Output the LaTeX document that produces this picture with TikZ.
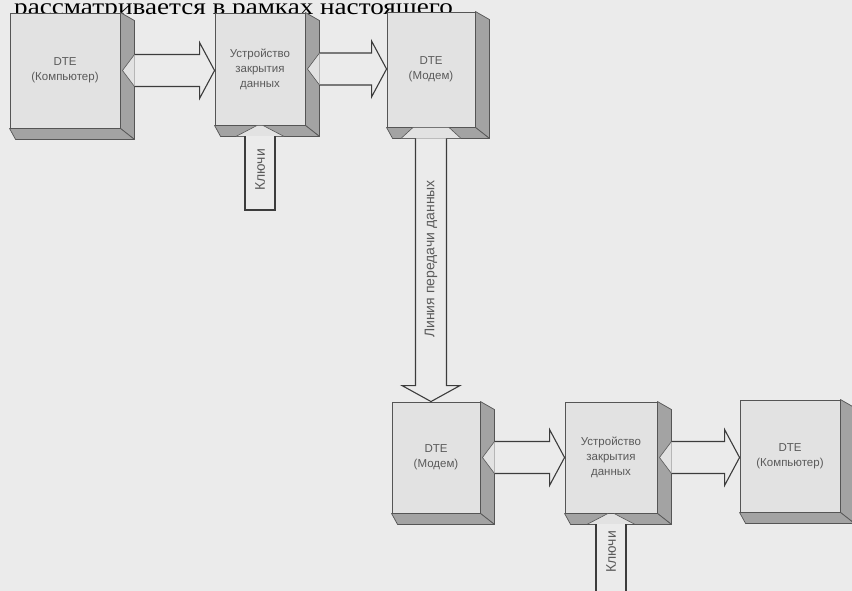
\documentclass[tikz,border=0pt]{standalone}
\usepackage{fontspec}
\newfontfamily\labelsans{Liberation Sans}
\newfontfamily\pageserif[FakeStretch=1.18]{Liberation Serif}
\usetikzlibrary{calc}
\definecolor{paper}{HTML}{EBEBEB}
\definecolor{facefill}{HTML}{E2E2E2}
\definecolor{sidefill}{HTML}{A3A3A3}
\definecolor{boxline}{HTML}{555555}
\definecolor{inkgray}{HTML}{5A5A5A}
\tikzset{
  frontface/.style = {rectangle, draw=boxline, fill=facefill, line width=0.9pt,
                      align=center, inner sep=0pt, text=inkgray,
                      font=\labelsans\fontsize{11.5}{15}\selectfont},
  shadeface/.style = {draw=boxline, fill=sidefill, line width=0.7pt, line join=round},
  notch/.style     = {draw=boxline, fill=facefill, line width=0.6pt},
  pipe/.style      = {draw=boxline!70!black, fill=paper, line width=1.1pt, line join=miter},
  pipelbl/.style   = {rotate=90, text=inkgray, font=\labelsans\fontsize{14}{16}\selectfont},
}
% depth of a box: right and bottom faces
\newcommand{\boxdepth}[1]{%
  \draw[shadeface] (#1.north east) -- ++(14,8) -- ([shift={(14,11)}]#1.south east)
    -- (#1.south east) -- cycle;
  \draw[shadeface] (#1.south west) -- ++(6,11) -- ([shift={(14,11)}]#1.south east)
    -- (#1.south east) -- cycle;}
% wide arrow from one box to the next one on its right
\newcommand{\sidepipe}[2]{%
  \filldraw[notch] let \p1=(#1.east) in
    (\x1+14pt,\y1+16pt) -- (\x1+2pt,\y1) -- (\x1+14pt,\y1-16pt) -- cycle;
  \draw[pipe] let \p1=(#1.east), \p2=(#2.west) in
    (\x1+14pt,\y1+16pt) -- (\x2-15pt,\y1+16pt) -- (\x2-15pt,\y1+28pt) -- (\x2,\y1)
    -- (\x2-15pt,\y1-28pt) -- (\x2-15pt,\y1-16pt) -- (\x1+14pt,\y1-16pt);}
% key input from below into a box
\newcommand{\keypipe}[2]{%
  \filldraw[notch] let \p1=(#1.south) in
    (\x1-24pt,\y1-11pt) -- (\x1-3pt,\y1) -- (\x1+3pt,\y1) -- (\x1+24pt,\y1-11pt) -- cycle;
  \draw[pipe] let \p1=(#1.south), \p2=(#2) in
    (\x1-15pt,\y1-11pt) -- (\x1-15pt,\y2) -- (\x1+15pt,\y2) -- (\x1+15pt,\y1-11pt);}
% data line from one box down to another
\newcommand{\linkpipe}[2]{%
  \filldraw[notch] let \p1=(#1.south) in
    (\x1-30pt,\y1-11pt) -- (\x1-18pt,\y1) -- (\x1+18pt,\y1) -- (\x1+30pt,\y1-11pt) -- cycle;
  \draw[pipe] let \p1=(#1.south), \p2=(#2.north) in
    (\x1-15.5pt,\y1-11pt) -- (\x1-15.5pt,\y2+16pt) -- (\x1-29pt,\y2+16pt) -- (\x1,\y2)
    -- (\x1+29pt,\y2+16pt) -- (\x1+15.5pt,\y2+16pt) -- (\x1+15.5pt,\y1-11pt);}
\begin{document}
\begin{tikzpicture}[x=1pt, y=-1pt]
  \clip (0,0) rectangle (852,591);
  \fill[paper] (0,0) rectangle (852,591);
  % line of page text above the figure
  \node[anchor=base west, inner sep=0pt, text height=11pt, text depth=0pt,
        font=\pageserif\fontsize{23}{25}\selectfont]
    (pagetext) at (14,15) {рассматривается в рамках настоящего};

  % sending side
  \node[frontface, minimum width=110pt, minimum height=115pt] (b1) at (65,70.5)  {DTE\\(Компьютер)};
  \node[frontface, minimum width=90pt,  minimum height=112pt] (b2) at (260,69)   {Устройство\\закрытия\\данных};
  \node[frontface, minimum width=88pt,  minimum height=115pt] (b3) at (431,69.5) {DTE\\(Модем)};
  % receiving side
  \node[frontface, minimum width=88pt,  minimum height=111pt] (b4) at (436,457.5) {DTE\\(Модем)};
  \node[frontface, minimum width=92pt,  minimum height=111pt] (b5) at (611,457.5) {Устройство\\закрытия\\данных};
  \node[frontface, minimum width=100pt, minimum height=112pt] (b6) at (790,456)   {DTE\\(Компьютер)};
  \foreach \b in {b1,b2,b3,b4,b5,b6}{\boxdepth{\b}}

  \foreach \src/\dst in {b1/b2, b2/b3, b4/b5, b5/b6}{\sidepipe{\src}{\dst}}

  \coordinate (k1end) at (260,210);
  \coordinate (k2end) at (611,600);
  \keypipe{b2}{k1end}
  \keypipe{b5}{k2end}
  \linkpipe{b3}{b4}

  \node[pipelbl] (k1)  at (260,170) {Ключи};
  \node[pipelbl] (k2)  at (611,552) {Ключи};
  \node[pipelbl] (lnk) at (431,259) {Линия передачи данных};
\end{tikzpicture}
\end{document}
